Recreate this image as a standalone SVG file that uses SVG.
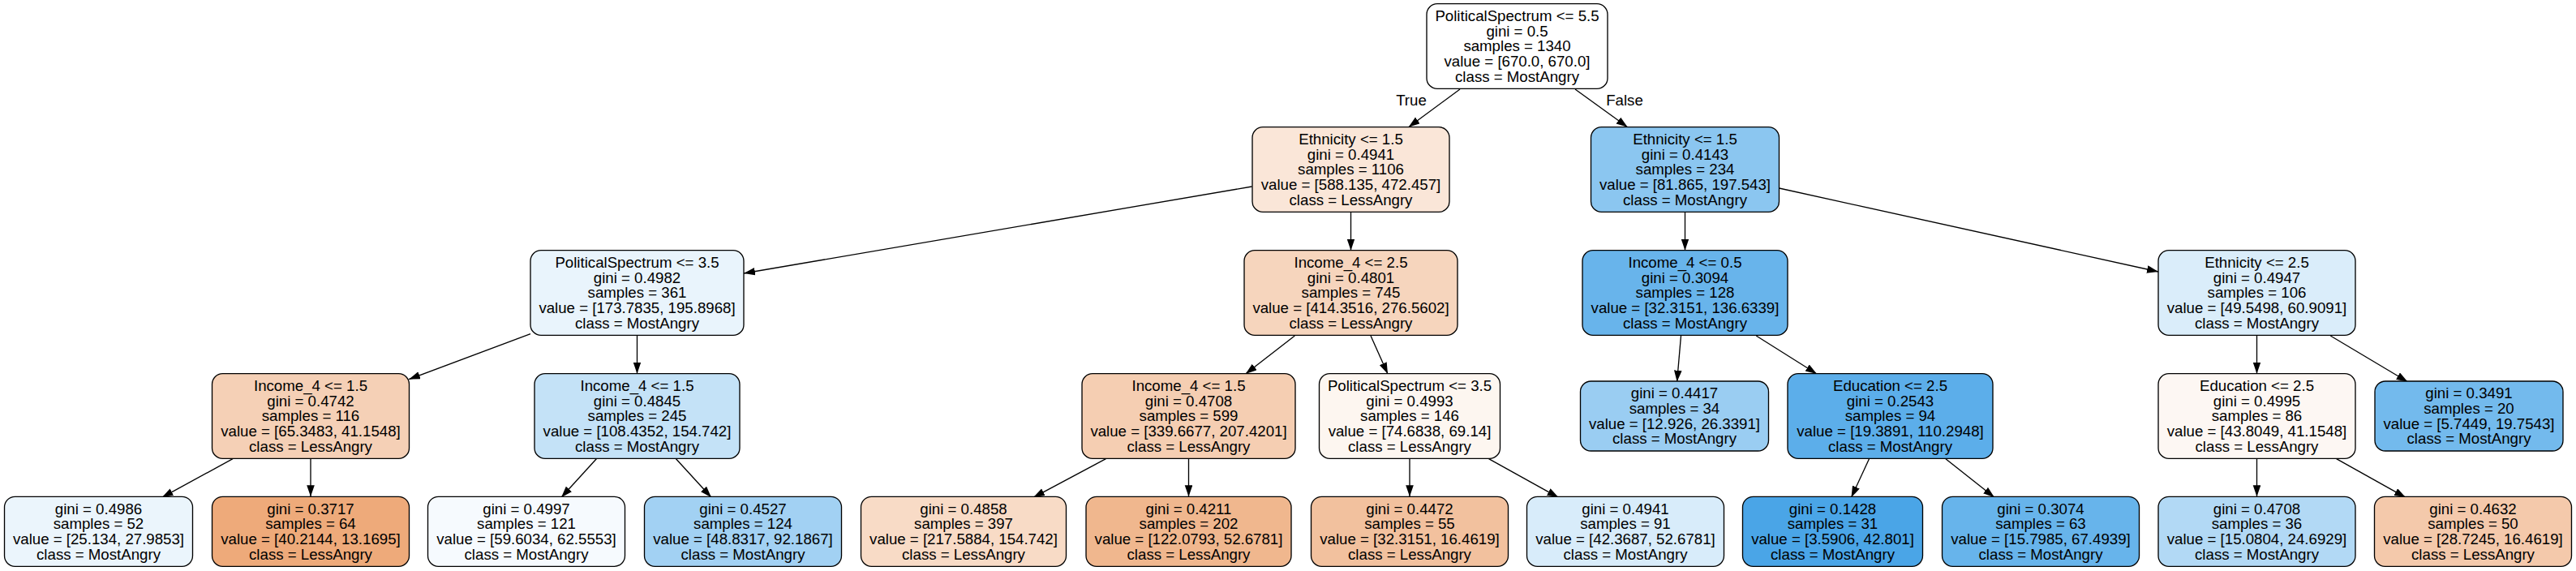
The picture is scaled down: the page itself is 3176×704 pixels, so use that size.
<svg xmlns="http://www.w3.org/2000/svg" width="3176" height="704" viewBox="0 0 3176 704">
<style>
.box{stroke:#000;stroke-width:1.33}
text{font-family:"Liberation Sans",Arial,Helvetica,sans-serif;font-size:18.67px;fill:#000;text-anchor:middle}
.edge{stroke:#000;stroke-width:1.33;fill:none;marker-end:url(#arrow)}
</style>
<defs>
<marker id="arrow" markerUnits="userSpaceOnUse" markerWidth="15" markerHeight="11" refX="14" refY="4.8" orient="auto">
<path d="M0,0 L14,4.8 L0,9.6 z" fill="#000"/>
</marker>
</defs>
<rect width="3176" height="704" fill="#fff"/>
<g id="edges">
<line class="edge" x1="1800" y1="110" x2="1736.6" y2="156.7"/>
<line class="edge" x1="1942" y1="110" x2="2006.7" y2="156.7"/>
<line class="edge" x1="1543.5" y1="230" x2="917" y2="337"/>
<line class="edge" x1="1665.5" y1="261.3" x2="1665.5" y2="308.7"/>
<line class="edge" x1="2077.5" y1="261.3" x2="2077.5" y2="308.7"/>
<line class="edge" x1="2193.5" y1="232" x2="2661" y2="335"/>
<line class="edge" x1="654" y1="411.7" x2="504" y2="467.7"/>
<line class="edge" x1="785.5" y1="413.3" x2="785.5" y2="460.7"/>
<line class="edge" x1="287" y1="565.7" x2="199.6" y2="613.3"/>
<line class="edge" x1="383" y1="565.3" x2="383" y2="612.3"/>
<line class="edge" x1="735.3" y1="565.7" x2="692" y2="613.3"/>
<line class="edge" x1="833.5" y1="565.7" x2="877" y2="613.3"/>
<line class="edge" x1="1596.3" y1="414" x2="1535.7" y2="461"/>
<line class="edge" x1="1690" y1="414" x2="1711" y2="461"/>
<line class="edge" x1="1363.5" y1="565.7" x2="1274" y2="613.3"/>
<line class="edge" x1="1465.5" y1="565.3" x2="1465.5" y2="612.3"/>
<line class="edge" x1="1738" y1="565.3" x2="1738" y2="612.3"/>
<line class="edge" x1="1835.5" y1="565.7" x2="1921.5" y2="613.3"/>
<line class="edge" x1="2072.5" y1="414" x2="2067.6" y2="470.7"/>
<line class="edge" x1="2165.3" y1="414" x2="2240" y2="461"/>
<line class="edge" x1="2782.5" y1="413.3" x2="2782.5" y2="460.7"/>
<line class="edge" x1="2873.3" y1="414" x2="2968.5" y2="470.7"/>
<line class="edge" x1="2304.5" y1="565.7" x2="2282.5" y2="613.3"/>
<line class="edge" x1="2398.9" y1="565.7" x2="2459" y2="613.3"/>
<line class="edge" x1="2782.5" y1="565.3" x2="2782.5" y2="612.3"/>
<line class="edge" x1="2880.6" y1="565.7" x2="2966" y2="613.3"/>
<text x="1740" y="130">True</text>
<text x="2003" y="130">False</text>
</g>
<g id="node0"><rect class="box" x="1759" y="4.7" width="223" height="104.7" rx="13" fill="#ffffff"/>
<text x="1870.5" y="26">PoliticalSpectrum &lt;= 5.5</text><text x="1870.5" y="44.7">gini = 0.5</text><text x="1870.5" y="63.3">samples = 1340</text><text x="1870.5" y="82">value = [670.0, 670.0]</text><text x="1870.5" y="100.7">class = MostAngry</text></g>
<g id="node1"><rect class="box" x="1544" y="156.7" width="243" height="104.7" rx="13" fill="#fae6d8"/>
<text x="1665.5" y="178">Ethnicity &lt;= 1.5</text><text x="1665.5" y="196.7">gini = 0.4941</text><text x="1665.5" y="215.3">samples = 1106</text><text x="1665.5" y="234">value = [588.135, 472.457]</text><text x="1665.5" y="252.7">class = LessAngry</text></g>
<g id="node2"><rect class="box" x="1961.5" y="156.7" width="232" height="104.7" rx="13" fill="#8bc6f0"/>
<text x="2077.5" y="178">Ethnicity &lt;= 1.5</text><text x="2077.5" y="196.7">gini = 0.4143</text><text x="2077.5" y="215.3">samples = 234</text><text x="2077.5" y="234">value = [81.865, 197.543]</text><text x="2077.5" y="252.7">class = MostAngry</text></g>
<g id="node3"><rect class="box" x="654" y="308.7" width="263" height="104.7" rx="13" fill="#e9f4fc"/>
<text x="785.5" y="330">PoliticalSpectrum &lt;= 3.5</text><text x="785.5" y="348.7">gini = 0.4982</text><text x="785.5" y="367.3">samples = 361</text><text x="785.5" y="386">value = [173.7835, 195.8968]</text><text x="785.5" y="404.7">class = MostAngry</text></g>
<g id="node4"><rect class="box" x="1534" y="308.7" width="263" height="104.7" rx="13" fill="#f6d5bd"/>
<text x="1665.5" y="330">Income_4 &lt;= 2.5</text><text x="1665.5" y="348.7">gini = 0.4801</text><text x="1665.5" y="367.3">samples = 745</text><text x="1665.5" y="386">value = [414.3516, 276.5602]</text><text x="1665.5" y="404.7">class = LessAngry</text></g>
<g id="node5"><rect class="box" x="1951" y="308.7" width="253" height="104.7" rx="13" fill="#68b4eb"/>
<text x="2077.5" y="330">Income_4 &lt;= 0.5</text><text x="2077.5" y="348.7">gini = 0.3094</text><text x="2077.5" y="367.3">samples = 128</text><text x="2077.5" y="386">value = [32.3151, 136.6339]</text><text x="2077.5" y="404.7">class = MostAngry</text></g>
<g id="node6"><rect class="box" x="2661" y="308.7" width="243" height="104.7" rx="13" fill="#daedfa"/>
<text x="2782.5" y="330">Ethnicity &lt;= 2.5</text><text x="2782.5" y="348.7">gini = 0.4947</text><text x="2782.5" y="367.3">samples = 106</text><text x="2782.5" y="386">value = [49.5498, 60.9091]</text><text x="2782.5" y="404.7">class = MostAngry</text></g>
<g id="node7"><rect class="box" x="261.5" y="460.7" width="243" height="104.7" rx="13" fill="#f5d0b6"/>
<text x="383" y="482">Income_4 &lt;= 1.5</text><text x="383" y="500.7">gini = 0.4742</text><text x="383" y="519.3">samples = 116</text><text x="383" y="538">value = [65.3483, 41.1548]</text><text x="383" y="556.7">class = LessAngry</text></g>
<g id="node8"><rect class="box" x="659" y="460.7" width="253" height="104.7" rx="13" fill="#c4e2f7"/>
<text x="785.5" y="482">Income_4 &lt;= 1.5</text><text x="785.5" y="500.7">gini = 0.4845</text><text x="785.5" y="519.3">samples = 245</text><text x="785.5" y="538">value = [108.4352, 154.742]</text><text x="785.5" y="556.7">class = MostAngry</text></g>
<g id="node9"><rect class="box" x="1334" y="460.7" width="263" height="104.7" rx="13" fill="#f5ceb2"/>
<text x="1465.5" y="482">Income_4 &lt;= 1.5</text><text x="1465.5" y="500.7">gini = 0.4708</text><text x="1465.5" y="519.3">samples = 599</text><text x="1465.5" y="538">value = [339.6677, 207.4201]</text><text x="1465.5" y="556.7">class = LessAngry</text></g>
<g id="node10"><rect class="box" x="1626.5" y="460.7" width="223" height="104.7" rx="13" fill="#fdf6f0"/>
<text x="1738" y="482">PoliticalSpectrum &lt;= 3.5</text><text x="1738" y="500.7">gini = 0.4993</text><text x="1738" y="519.3">samples = 146</text><text x="1738" y="538">value = [74.6838, 69.14]</text><text x="1738" y="556.7">class = LessAngry</text></g>
<g id="node11"><rect class="box" x="1948.5" y="470" width="232" height="86" rx="13" fill="#9acdf2"/>
<text x="2064.5" y="491.3">gini = 0.4417</text><text x="2064.5" y="510">samples = 34</text><text x="2064.5" y="528.7">value = [12.926, 26.3391]</text><text x="2064.5" y="547.3">class = MostAngry</text></g>
<g id="node12"><rect class="box" x="2204" y="460.7" width="253" height="104.7" rx="13" fill="#5caeea"/>
<text x="2330.5" y="482">Education &lt;= 2.5</text><text x="2330.5" y="500.7">gini = 0.2543</text><text x="2330.5" y="519.3">samples = 94</text><text x="2330.5" y="538">value = [19.3891, 110.2948]</text><text x="2330.5" y="556.7">class = MostAngry</text></g>
<g id="node13"><rect class="box" x="2661" y="460.7" width="243" height="104.7" rx="13" fill="#fdf7f3"/>
<text x="2782.5" y="482">Education &lt;= 2.5</text><text x="2782.5" y="500.7">gini = 0.4995</text><text x="2782.5" y="519.3">samples = 86</text><text x="2782.5" y="538">value = [43.8049, 41.1548]</text><text x="2782.5" y="556.7">class = LessAngry</text></g>
<g id="node14"><rect class="box" x="2928" y="470" width="232" height="86" rx="13" fill="#73baed"/>
<text x="3044" y="491.3">gini = 0.3491</text><text x="3044" y="510">samples = 20</text><text x="3044" y="528.7">value = [5.7449, 19.7543]</text><text x="3044" y="547.3">class = MostAngry</text></g>
<g id="node15"><rect class="box" x="5.5" y="612.3" width="232" height="86" rx="13" fill="#ebf5fc"/>
<text x="121.5" y="633.6">gini = 0.4986</text><text x="121.5" y="652.3">samples = 52</text><text x="121.5" y="671">value = [25.134, 27.9853]</text><text x="121.5" y="689.6">class = MostAngry</text></g>
<g id="node16"><rect class="box" x="261.5" y="612.3" width="243" height="86" rx="13" fill="#eeaa7a"/>
<text x="383" y="633.6">gini = 0.3717</text><text x="383" y="652.3">samples = 64</text><text x="383" y="671">value = [40.2144, 13.1695]</text><text x="383" y="689.6">class = LessAngry</text></g>
<g id="node17"><rect class="box" x="527.5" y="612.3" width="243" height="86" rx="13" fill="#f6fafe"/>
<text x="649" y="633.6">gini = 0.4997</text><text x="649" y="652.3">samples = 121</text><text x="649" y="671">value = [59.6034, 62.5553]</text><text x="649" y="689.6">class = MostAngry</text></g>
<g id="node18"><rect class="box" x="794.5" y="612.3" width="243" height="86" rx="13" fill="#a2d1f3"/>
<text x="916" y="633.6">gini = 0.4527</text><text x="916" y="652.3">samples = 124</text><text x="916" y="671">value = [48.8317, 92.1867]</text><text x="916" y="689.6">class = MostAngry</text></g>
<g id="node19"><rect class="box" x="1061.5" y="612.3" width="253" height="86" rx="13" fill="#f8dbc6"/>
<text x="1188" y="633.6">gini = 0.4858</text><text x="1188" y="652.3">samples = 397</text><text x="1188" y="671">value = [217.5884, 154.742]</text><text x="1188" y="689.6">class = LessAngry</text></g>
<g id="node20"><rect class="box" x="1339" y="612.3" width="253" height="86" rx="13" fill="#f0b78e"/>
<text x="1465.5" y="633.6">gini = 0.4211</text><text x="1465.5" y="652.3">samples = 202</text><text x="1465.5" y="671">value = [122.0793, 52.6781]</text><text x="1465.5" y="689.6">class = LessAngry</text></g>
<g id="node21"><rect class="box" x="1616.5" y="612.3" width="243" height="86" rx="13" fill="#f2c19e"/>
<text x="1738" y="633.6">gini = 0.4472</text><text x="1738" y="652.3">samples = 55</text><text x="1738" y="671">value = [32.3151, 16.4619]</text><text x="1738" y="689.6">class = LessAngry</text></g>
<g id="node22"><rect class="box" x="1882.5" y="612.3" width="243" height="86" rx="13" fill="#d8ecfa"/>
<text x="2004" y="633.6">gini = 0.4941</text><text x="2004" y="652.3">samples = 91</text><text x="2004" y="671">value = [42.3687, 52.6781]</text><text x="2004" y="689.6">class = MostAngry</text></g>
<g id="node23"><rect class="box" x="2148.5" y="612.3" width="222" height="86" rx="13" fill="#4aa5e7"/>
<text x="2259.5" y="633.6">gini = 0.1428</text><text x="2259.5" y="652.3">samples = 31</text><text x="2259.5" y="671">value = [3.5906, 42.801]</text><text x="2259.5" y="689.6">class = MostAngry</text></g>
<g id="node24"><rect class="box" x="2394.5" y="612.3" width="243" height="86" rx="13" fill="#67b4eb"/>
<text x="2516" y="633.6">gini = 0.3074</text><text x="2516" y="652.3">samples = 63</text><text x="2516" y="671">value = [15.7985, 67.4939]</text><text x="2516" y="689.6">class = MostAngry</text></g>
<g id="node25"><rect class="box" x="2661" y="612.3" width="243" height="86" rx="13" fill="#b2d9f5"/>
<text x="2782.5" y="633.6">gini = 0.4708</text><text x="2782.5" y="652.3">samples = 36</text><text x="2782.5" y="671">value = [15.0804, 24.6929]</text><text x="2782.5" y="689.6">class = MostAngry</text></g>
<g id="node26"><rect class="box" x="2927.5" y="612.3" width="243" height="86" rx="13" fill="#f4c9ab"/>
<text x="3049" y="633.6">gini = 0.4632</text><text x="3049" y="652.3">samples = 50</text><text x="3049" y="671">value = [28.7245, 16.4619]</text><text x="3049" y="689.6">class = LessAngry</text></g>
</svg>
